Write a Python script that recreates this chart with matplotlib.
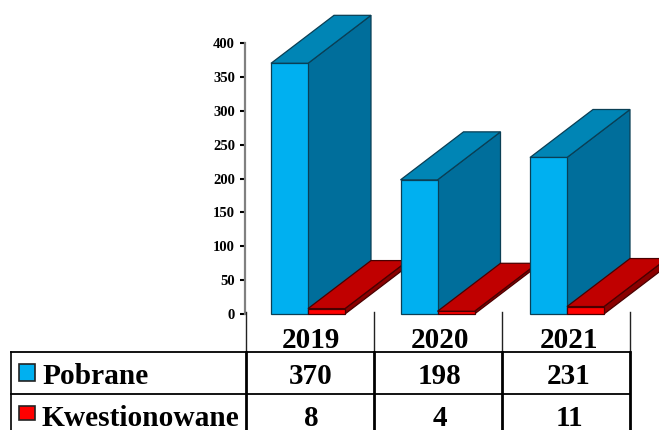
#!/usr/bin/env python3
import numpy as np
import matplotlib
matplotlib.use("Agg")
import matplotlib.pyplot as plt
from matplotlib.patches import Polygon, Rectangle

plt.rcParams['font.family'] = ['Liberation Serif', 'DejaVu Serif']

# Chart data
YEARS = ['2019', '2020', '2021']
POBRANE = [370, 198, 231]
KWESTIONOWANE = [8, 4, 11]
SERIES_NAMES = ['Pobrane', 'Kwestionowane']
Y_TICKS = [0, 50, 100, 150, 200, 250, 300, 350, 400]

W, H = 659, 430
AX_LEFT, AX_RIGHT = 245.5, 630   # px
AX_TOP, AX_BOTTOM = 43, 314      # px
PX = (AX_RIGHT - AX_LEFT) / len(YEARS)

# 3D look, in data units
BAR_W = 37 / PX
BAR_START = 25.5 / PX
BAR_STEP = 129.5 / PX
DX = 63 / PX
DY = 48 / (271 / 400)

BLUE = ('#00B0F0', '#0085B5', '#006E9B')
RED = ('#FF0000', '#C00000', '#8A0000')
EDGE_BLUE = '#0A3F55'
EDGE_RED = '#4A0000'


def draw_box(ax, x, value, colors, edge, z):
    """Front, top and side faces of one fake 3D bar."""
    front, top, side = colors
    x2 = x + BAR_W
    faces = [
        ([(x2, 0), (x2 + DX, DY), (x2 + DX, value + DY), (x2, value)], side),
        ([(x, value), (x + DX, value + DY), (x2 + DX, value + DY), (x2, value)], top),
        ([(x, 0), (x2, 0), (x2, value), (x, value)], front),
    ]
    for pts, col in faces:
        ax.add_patch(Polygon(pts, closed=True, facecolor=col, edgecolor=edge,
                             linewidth=0.9, zorder=z, clip_on=False))


fig = plt.figure(figsize=(W / 100, H / 100), dpi=100)

# plot area
ax = fig.add_axes([AX_LEFT / W, 1 - AX_BOTTOM / H,
                   (AX_RIGHT - AX_LEFT) / W, (AX_BOTTOM - AX_TOP) / H])
ax.set_xlim(0, len(YEARS))
ax.set_ylim(0, 400)
ax.patch.set_alpha(0)
for name in ['top', 'right', 'bottom']:
    ax.spines[name].set_visible(False)
ax.spines['left'].set_color('#808080')
ax.spines['left'].set_linewidth(1.6)
ax.set_xticks([])
ax.set_yticks(Y_TICKS)
ax.tick_params(axis='y', length=3.5, width=1.5, color='black', pad=4)
for lab in ax.get_yticklabels():
    lab.set_fontsize(10.5)
    lab.set_fontweight('bold')

for i in range(len(YEARS)):
    z = 3 + i * 2
    x0 = BAR_START + i * BAR_STEP
    draw_box(ax, x0, POBRANE[i], BLUE, EDGE_BLUE, z)
    draw_box(ax, x0 + BAR_W, KWESTIONOWANE[i], RED, EDGE_RED, z + 1)

# data table underneath, in pixel coordinates
tb = fig.add_axes([0, 0, 1, 1])
tb.set_xlim(0, W)
tb.set_ylim(H, 0)
tb.axis('off')
tb.patch.set_alpha(0)

col_x = np.linspace(AX_LEFT, AX_RIGHT, len(YEARS) + 1)
for x in col_x:
    tb.plot([x, x], [312, 352], color='#222222', lw=1.0)
    tb.plot([x, x], [352, H], color='black', lw=2.0)
tb.plot([11, 11], [352, H], color='black', lw=1.2)
tb.plot([11, AX_RIGHT], [352, 352], color='black', lw=1.3)
tb.plot([11, AX_RIGHT], [394, 394], color='black', lw=1.3)

TXT = dict(fontweight='bold', fontsize=21, ha='center', va='center')
for i, year in enumerate(YEARS):
    cx = 311 + 129 * i
    tb.text(cx, 340, year, **TXT)
    tb.text(cx, 376, str(POBRANE[i]), **TXT)
    tb.text(cx, 418, str(KWESTIONOWANE[i]), **TXT)

for name, col, ty, sy, sh in [(SERIES_NAMES[0], BLUE[0], 376, 364, 17),
                              (SERIES_NAMES[1], RED[0], 418, 406, 14)]:
    tb.add_patch(Rectangle((18.5, sy), 16.5, sh, facecolor=col,
                           edgecolor='#222222', linewidth=1.2))
    tb.text(42, ty, name, fontweight='bold', fontsize=21.2, ha='left', va='center')

fig.savefig('out.png', dpi=100)
